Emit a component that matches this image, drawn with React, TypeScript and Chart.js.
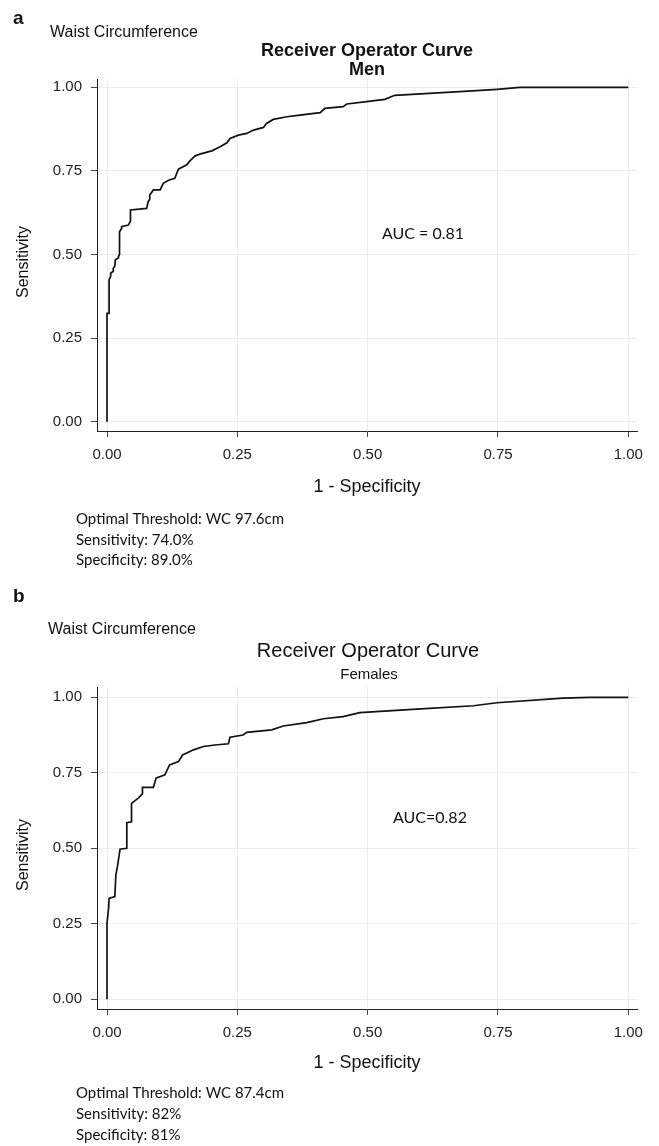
import React, { useEffect, useRef } from "react";
import { Chart, registerables } from "chart.js";

Chart.register(...registerables);

// ---- data ----
const X_TICKS = [0, 0.25, 0.5, 0.75, 1];
const Y_TICKS = [0, 0.25, 0.5, 0.75, 1];

const MEN_FPR = [0, 0, 0.004, 0.004, 0.007, 0.007, 0.012, 0.012, 0.015, 0.016, 0.022, 0.022, 0.024, 0.024, 0.028, 0.028, 0.041, 0.045, 0.045, 0.076, 0.079, 0.082, 0.082, 0.089, 0.102, 0.108, 0.118, 0.13, 0.137, 0.153, 0.159, 0.169, 0.178, 0.201, 0.217, 0.23, 0.236, 0.252, 0.268, 0.281, 0.3, 0.306, 0.319, 0.345, 0.37, 0.409, 0.418, 0.453, 0.46, 0.498, 0.533, 0.552, 0.709, 0.748, 0.792, 1];
const MEN_TPR = [0, 0.324, 0.324, 0.424, 0.435, 0.444, 0.45, 0.459, 0.465, 0.484, 0.49, 0.494, 0.5, 0.568, 0.578, 0.583, 0.588, 0.6, 0.633, 0.638, 0.658, 0.665, 0.678, 0.693, 0.693, 0.713, 0.722, 0.728, 0.755, 0.768, 0.78, 0.795, 0.8, 0.81, 0.822, 0.834, 0.847, 0.857, 0.862, 0.872, 0.88, 0.892, 0.904, 0.912, 0.917, 0.924, 0.937, 0.942, 0.95, 0.957, 0.964, 0.976, 0.99, 0.994, 1, 1];

const FEMALE_FPR = [0, 0, 0.003, 0.004, 0.015, 0.017, 0.02, 0.025, 0.038, 0.038, 0.047, 0.047, 0.06, 0.068, 0.068, 0.089, 0.094, 0.111, 0.12, 0.137, 0.145, 0.166, 0.185, 0.207, 0.233, 0.236, 0.261, 0.268, 0.316, 0.338, 0.383, 0.415, 0.453, 0.485, 0.594, 0.703, 0.748, 0.875, 0.927, 1];
const FEMALE_TPR = [0, 0.252, 0.301, 0.334, 0.34, 0.412, 0.439, 0.497, 0.5, 0.585, 0.588, 0.649, 0.666, 0.68, 0.702, 0.702, 0.732, 0.743, 0.776, 0.787, 0.809, 0.826, 0.837, 0.842, 0.846, 0.868, 0.875, 0.884, 0.892, 0.905, 0.916, 0.929, 0.936, 0.949, 0.961, 0.972, 0.982, 0.997, 1, 1];

const X_TITLE = "1 - Specificity";
const Y_TITLE = "Sensitivity";
const SUPTITLE = "Waist Circumference";
const TITLE = "Receiver Operator Curve";
const SUBTITLE_A = "Men";
const SUBTITLE_B = "Females";
const AUC_A = "AUC = 0.81";
const AUC_B = "AUC=0.82";
const NOTES_A = ["Optimal Threshold: WC 97.6cm", "Sensitivity: 74.0%", "Specificity: 89.0%"];
const NOTES_B = ["Optimal Threshold: WC 87.4cm", "Sensitivity: 82%", "Specificity: 81%"];

const ARIAL = "'Liberation Sans', Arial, sans-serif";
const CALIBRI = "Lato, 'Noto Sans', sans-serif";

type TextItem = {
  text: string;
  x: number;
  y: number;
  font: string;
  align?: CanvasTextAlign;
  rot?: number;
};

type PanelProps = {
  top: number;
  height: number;
  fpr: number[];
  tpr: number[];
  area: { left: number; top: number; right: number; bottom: number };
  yMin: number;
  yMax: number;
  xMin: number;
  xMax: number;
  xTitleCenter: number;
  texts: TextItem[];
};

function RocPanel(p: PanelProps) {
  const ref = useRef<HTMLCanvasElement | null>(null);
  useEffect(() => {
    if (!ref.current) return;
    const textPlugin = {
      id: "freeText",
      afterDraw(chart: any) {
        const ctx = chart.ctx as CanvasRenderingContext2D;
        ctx.save();
        ctx.fillStyle = "#111";
        ctx.textBaseline = "middle";
        for (const t of p.texts) {
          ctx.save();
          ctx.font = t.font;
          ctx.textAlign = t.align || "left";
          ctx.translate(t.x, t.y);
          if (t.rot) ctx.rotate(t.rot);
          ctx.fillText(t.text, 0, 0);
          ctx.restore();
        }
        ctx.restore();
      },
    };
    const xScaleHeight = p.height - p.area.bottom;
    const xTitleFont = 18;
    const chart = new Chart(ref.current, {
      type: "scatter",
      data: {
        datasets: [
          {
            data: p.fpr.map((x, i) => ({ x, y: p.tpr[i] })),
            showLine: true,
            pointRadius: 0,
            borderColor: "#111",
            borderWidth: 1.7,
            tension: 0,
          },
        ],
      },
      options: {
        animation: false,
        responsive: false,
        maintainAspectRatio: false,
        layout: {
          padding: { top: p.area.top, left: 0, right: 659 - p.area.right, bottom: 0 },
        },
        plugins: {
          legend: { display: false },
          tooltip: { enabled: false },
          title: { display: false },
        },
        scales: {
          x: {
            type: "linear",
            min: p.xMin,
            max: p.xMax,
            afterBuildTicks: (s: any) => {
              s.ticks = X_TICKS.map((v) => ({ value: v }));
            },
            afterFit: (s: any) => {
              s.height = xScaleHeight;
            },
            grid: { color: "#ebebeb", tickColor: "#444", tickLength: 6, lineWidth: 1 },
            border: { color: "#222", width: 1 },
            ticks: {
              padding: 9,
              color: "#222",
              font: { family: ARIAL, size: 15 },
              maxRotation: 0,
              callback: (v: any) => Number(v).toFixed(2),
            },
            title: {
              display: true,
              text: X_TITLE,
              color: "#111",
              font: { family: ARIAL, size: xTitleFont },
              padding: { top: 0, bottom: xScaleHeight - (p.xTitleCenter - p.area.bottom) - (xTitleFont * 1.2) / 2 },
            },
          },
          y: {
            type: "linear",
            min: p.yMin,
            max: p.yMax,
            afterBuildTicks: (s: any) => {
              s.ticks = Y_TICKS.map((v) => ({ value: v }));
            },
            afterFit: (s: any) => {
              s.width = p.area.left;
            },
            grid: { color: "#ebebeb", tickColor: "#444", tickLength: 6, lineWidth: 1 },
            border: { color: "#222", width: 1 },
            ticks: {
              padding: 9,
              color: "#222",
              font: { family: ARIAL, size: 15 },
              callback: (v: any) => Number(v).toFixed(2),
            },
          },
        },
      },
      plugins: [textPlugin],
    });
    return () => chart.destroy();
  }, []);
  return (
    <canvas
      ref={ref}
      width={659}
      height={p.height}
      style={{ position: "absolute", left: 0, top: p.top, width: 659, height: p.height, display: "block" }}
    />
  );
}

export default function App() {
  const textsA: TextItem[] = [
    { text: "a", x: 13, y: 19, font: `bold 19px ${ARIAL}` },
    { text: SUPTITLE, x: 50, y: 33, font: `16px ${ARIAL}` },
    { text: TITLE, x: 367, y: 51, font: `bold 18px ${ARIAL}`, align: "center" },
    { text: SUBTITLE_A, x: 367, y: 70, font: `bold 18px ${ARIAL}`, align: "center" },
    { text: Y_TITLE, x: 24, y: 262, font: `16px ${ARIAL}`, align: "center", rot: -Math.PI / 2 },
    { text: AUC_A, x: 382, y: 234, font: `16px ${CALIBRI}` },
    { text: NOTES_A[0], x: 76, y: 519, font: `15px ${CALIBRI}` },
    { text: NOTES_A[1], x: 76, y: 540, font: `15px ${CALIBRI}` },
    { text: NOTES_A[2], x: 76, y: 560, font: `15px ${CALIBRI}` },
  ];
  const textsB: TextItem[] = [
    { text: "b", x: 13, y: 22, font: `bold 19px ${ARIAL}` },
    { text: SUPTITLE, x: 48, y: 55, font: `16px ${ARIAL}` },
    { text: TITLE, x: 368, y: 76, font: `20px ${ARIAL}`, align: "center" },
    { text: SUBTITLE_B, x: 369, y: 100, font: `15px ${ARIAL}`, align: "center" },
    { text: Y_TITLE, x: 24, y: 280, font: `16px ${ARIAL}`, align: "center", rot: -Math.PI / 2 },
    { text: AUC_B, x: 393, y: 243, font: `16px ${CALIBRI}` },
    { text: NOTES_B[0], x: 76, y: 518, font: `15px ${CALIBRI}` },
    { text: NOTES_B[1], x: 76, y: 539, font: `15px ${CALIBRI}` },
    { text: NOTES_B[2], x: 76, y: 560, font: `15px ${CALIBRI}` },
  ];
  return (
    <div style={{ position: "absolute", left: 0, top: 0, width: 659, height: 1146, background: "#fff" }}>
      <RocPanel
        top={0}
        height={575}
        fpr={MEN_FPR}
        tpr={MEN_TPR}
        area={{ left: 97, top: 79, right: 637, bottom: 431 }}
        yMin={-0.0278}
        yMax={1.0248}
        xMin={-0.0192}
        xMax={1.0167}
        xTitleCenter={487}
        texts={textsA}
      />
      <RocPanel
        top={575}
        height={571}
        fpr={FEMALE_FPR}
        tpr={FEMALE_TPR}
        area={{ left: 97, top: 112, right: 637, bottom: 434 }}
        yMin={-0.0321}
        yMax={1.0341}
        xMin={-0.0192}
        xMax={1.0167}
        xTitleCenter={488}
        texts={textsB}
      />
    </div>
  );
}
